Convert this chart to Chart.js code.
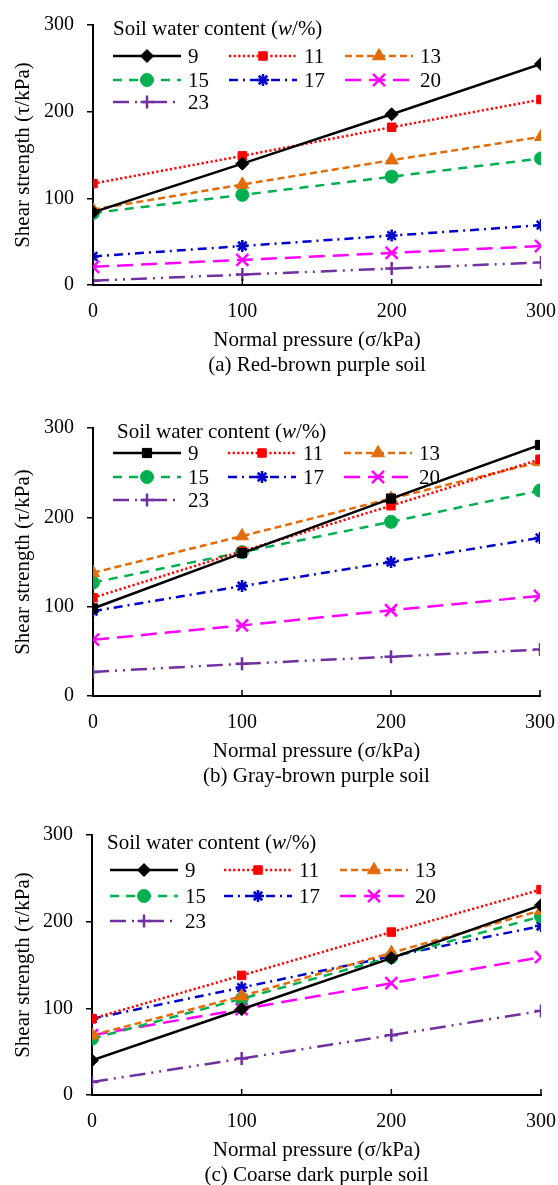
<!DOCTYPE html>
<html lang="en">
<head>
<meta charset="UTF-8">
<title>Shear strength vs normal pressure</title>
<script src="https://cdn.jsdelivr.net/npm/chart.js"></script>
<style>
    body, html {
        margin: 0;
        padding: 0;
        background: #fff;
    }
    .panel {
        position: absolute;
        left: 0;
        width: 558px;
    }
    canvas { display: block; }
</style>
</head>
<body>

<div class="panel" style="top:0"><canvas id="chartA" width="558" height="380"></canvas></div>
<div class="panel" style="top:390px"><canvas id="chartB" width="558" height="400"></canvas></div>
<div class="panel" style="top:800px"><canvas id="chartC" width="558" height="388"></canvas></div>

<script>
// values
const pressure = [0, 100, 200, 300];
const waterContent = ['9', '11', '13', '15', '17', '20', '23'];
const yTicks = [0, 100, 200, 300];

// (a) red-brown purple soil
const redBrown9  = [84, 140, 197, 255];
const redBrown11 = [117, 149, 182, 214];
const redBrown13 = [87, 116, 144, 171];
const redBrown15 = [83, 104, 125, 146];
const redBrown17 = [33, 45, 57, 69];
const redBrown20 = [21, 29, 37, 45];
const redBrown23 = [5, 12, 19, 26];

// (b) gray-brown purple soil
const grayBrown9  = [98, 160, 221, 281];
const grayBrown11 = [110, 162, 213, 265];
const grayBrown13 = [138, 179, 221, 262];
const grayBrown15 = [127, 161, 195, 230];
const grayBrown17 = [95, 123, 150, 177];
const grayBrown20 = [63, 79, 96, 112];
const grayBrown23 = [27, 36, 44, 52];

// (c) coarse dark purple soil
const coarseDark9  = [40, 99, 158, 219];
const coarseDark11 = [88, 138, 188, 237];
const coarseDark13 = [69, 114, 164, 213];
const coarseDark15 = [65, 111, 159, 206];
const coarseDark17 = [88, 124, 160, 195];
const coarseDark20 = [69, 99, 129, 159];
const coarseDark23 = [15, 42, 69, 97];

const FONT = '"Liberation Serif", "Times New Roman", serif';

// one style per water content
const styles = [
    { color: '#000000', dash: [],                   point: 'rectRot',  r: 6.5, bw: 1 },
    { color: '#FF0000', dash: [2.2, 2.4],           point: 'rect',     r: 6,   bw: 1 },
    { color: '#E36C0A', dash: [7, 4],               point: 'triangle', r: 7.5, bw: 1 },
    { color: '#00B050', dash: [9, 7],               point: 'circle',   r: 6.5, bw: 1 },
    { color: '#0000CC', dash: [9, 5, 2, 5],         point: 'star',     r: 6,   bw: 2.5 },
    { color: '#FF00FF', dash: [16, 8],              point: 'crossRot', r: 8.5, bw: 2.5 },
    { color: '#7030A0', dash: [16, 6, 2, 6, 2, 6],  point: 'cross',    r: 6.5, bw: 2.5 }
];

// legend drawn inside the plot, under the data lines
const soilLegend = {
    id: 'soilLegend',
    beforeDatasetsDraw(chart, args, o) {
        const ctx = chart.ctx;
        ctx.save();
        ctx.textBaseline = 'middle';
        ctx.fillStyle = '#000';
        // title with italic w
        let x = o.titleX;
        const parts = [['Soil water content (', ''], ['w', 'italic '], ['/%)', '']];
        parts.forEach(p => {
            ctx.font = p[1] + '21px ' + FONT;
            ctx.fillText(p[0], x, o.titleY);
            x += ctx.measureText(p[0]).width;
        });
        chart.data.datasets.forEach((ds, i) => {
            const lx = o.cols[i % 3];
            const ly = o.rows[Math.floor(i / 3)];
            ctx.strokeStyle = ds.borderColor;
            ctx.lineWidth = ds.borderWidth;
            ctx.setLineDash(ds.borderDash);
            ctx.beginPath();
            ctx.moveTo(lx, ly);
            ctx.lineTo(lx + 68, ly);
            ctx.stroke();
            ctx.setLineDash([]);
            ctx.fillStyle = ds.pointBackgroundColor;
            ctx.lineWidth = ds.pointBorderWidth;
            if (Chart.helpers && Chart.helpers.drawPoint) {
                Chart.helpers.drawPoint(ctx, {
                    pointStyle: ds.pointStyle, radius: ds.pointRadius,
                    rotation: 0, borderWidth: ds.pointBorderWidth
                }, lx + 34, ly);
            }
            ctx.fillStyle = '#000';
            ctx.font = '21px ' + FONT;
            ctx.fillText(ds.label, lx + 75, ly + 1);
        });
        ctx.restore();
    },
    afterDraw(chart) {
        // short inward tick marks on the x axis
        const ctx = chart.ctx, xs = chart.scales.x, a = chart.chartArea;
        ctx.save();
        ctx.strokeStyle = '#000';
        ctx.lineWidth = 1.5;
        xs.ticks.forEach(t => {
            const px = xs.getPixelForValue(t.value);
            ctx.beginPath();
            ctx.moveTo(px, a.bottom);
            ctx.lineTo(px, a.bottom - 6);
            ctx.stroke();
        });
        ctx.restore();
    }
};

function makeChart(id, series, cfg) {
    const datasets = series.map((vals, i) => {
        const st = styles[i];
        return {
            label: waterContent[i],
            data: vals.map((v, k) => ({ x: pressure[k], y: v })),
            borderColor: st.color,
            backgroundColor: st.color,
            borderWidth: 2.5,
            borderDash: st.dash,
            pointStyle: i === 0 ? cfg.firstMarker : st.point,
            pointRadius: st.r,
            pointBorderWidth: st.bw,
            pointBackgroundColor: st.color,
            pointBorderColor: st.color,
            tension: 0,
            fill: false
        };
    });

    new Chart(document.getElementById(id), {
        type: 'line',
        data: { datasets: datasets },
        plugins: [soilLegend],
        options: {
            responsive: false,
            animation: false,
            devicePixelRatio: 1,
            layout: {
                padding: { top: cfg.top, bottom: cfg.bottom, left: 0, right: cfg.right }
            },
            scales: {
                x: {
                    type: 'linear',
                    min: 0, max: 300,
                    afterBuildTicks: s => { s.ticks = pressure.map(v => ({ value: v })); },
                    afterFit: s => {
                        s.height = 92.5;
                        s.paddingLeft = 0;
                        s.paddingRight = 0;
                    },
                    grid: { drawOnChartArea: false, drawTicks: false },
                    border: { color: '#000', width: 2 },
                    ticks: { color: '#000', padding: 15, font: { family: FONT, size: 20 } },
                    // axis title plus the panel caption underneath
                    title: {
                        display: true, text: ['Normal pressure (σ/kPa)', cfg.caption], color: '#000',
                        padding: { top: 0, bottom: 0 },
                        font: { family: FONT, size: 21, lineHeight: 25 / 21 }
                    }
                },
                y: {
                    min: 0, max: 300,
                    afterBuildTicks: s => { s.ticks = yTicks.map(v => ({ value: v })); },
                    afterFit: s => { s.width = cfg.left; },
                    grid: { drawOnChartArea: false, drawTicks: true, tickLength: 6, color: '#000', lineWidth: 1.5 },
                    border: { color: '#000', width: 2 },
                    ticks: { color: '#000', padding: 13, font: { family: FONT, size: 20 } },
                    title: {
                        display: true, text: 'Shear strength (τ/kPa)', color: '#000',
                        padding: { top: 12.5, bottom: 0 },
                        font: { family: FONT, size: 21, lineHeight: 1 }
                    }
                }
            },
            plugins: {
                legend: { display: false },
                tooltip: { enabled: false },
                soilLegend: cfg.legend
            }
        }
    });
}

makeChart('chartA',
    [redBrown9, redBrown11, redBrown13, redBrown15, redBrown17, redBrown20, redBrown23],
    {
        caption: '(a) Red-brown purple soil', firstMarker: 'rectRot',
        top: 24, bottom: 2.5, right: 17, left: 93,
        legend: { titleX: 113, titleY: 29, cols: [113, 229, 345], rows: [56, 80, 102] }
    });

makeChart('chartB',
    [grayBrown9, grayBrown11, grayBrown13, grayBrown15, grayBrown17, grayBrown20, grayBrown23],
    {
        caption: '(b) Gray-brown purple soil', firstMarker: 'rect',
        top: 38, bottom: 1.5, right: 18, left: 93,
        legend: { titleX: 117, titleY: 42, cols: [113, 228, 344], rows: [63, 87, 110] }
    });

makeChart('chartC',
    [coarseDark9, coarseDark11, coarseDark13, coarseDark15, coarseDark17, coarseDark20, coarseDark23],
    {
        caption: '(c) Coarse dark purple soil', firstMarker: 'rectRot',
        top: 35, bottom: 0.5, right: 17, left: 92,
        legend: { titleX: 107, titleY: 43, cols: [110, 224, 340], rows: [70, 96, 121] }
    });
</script>
</body>
</html>
